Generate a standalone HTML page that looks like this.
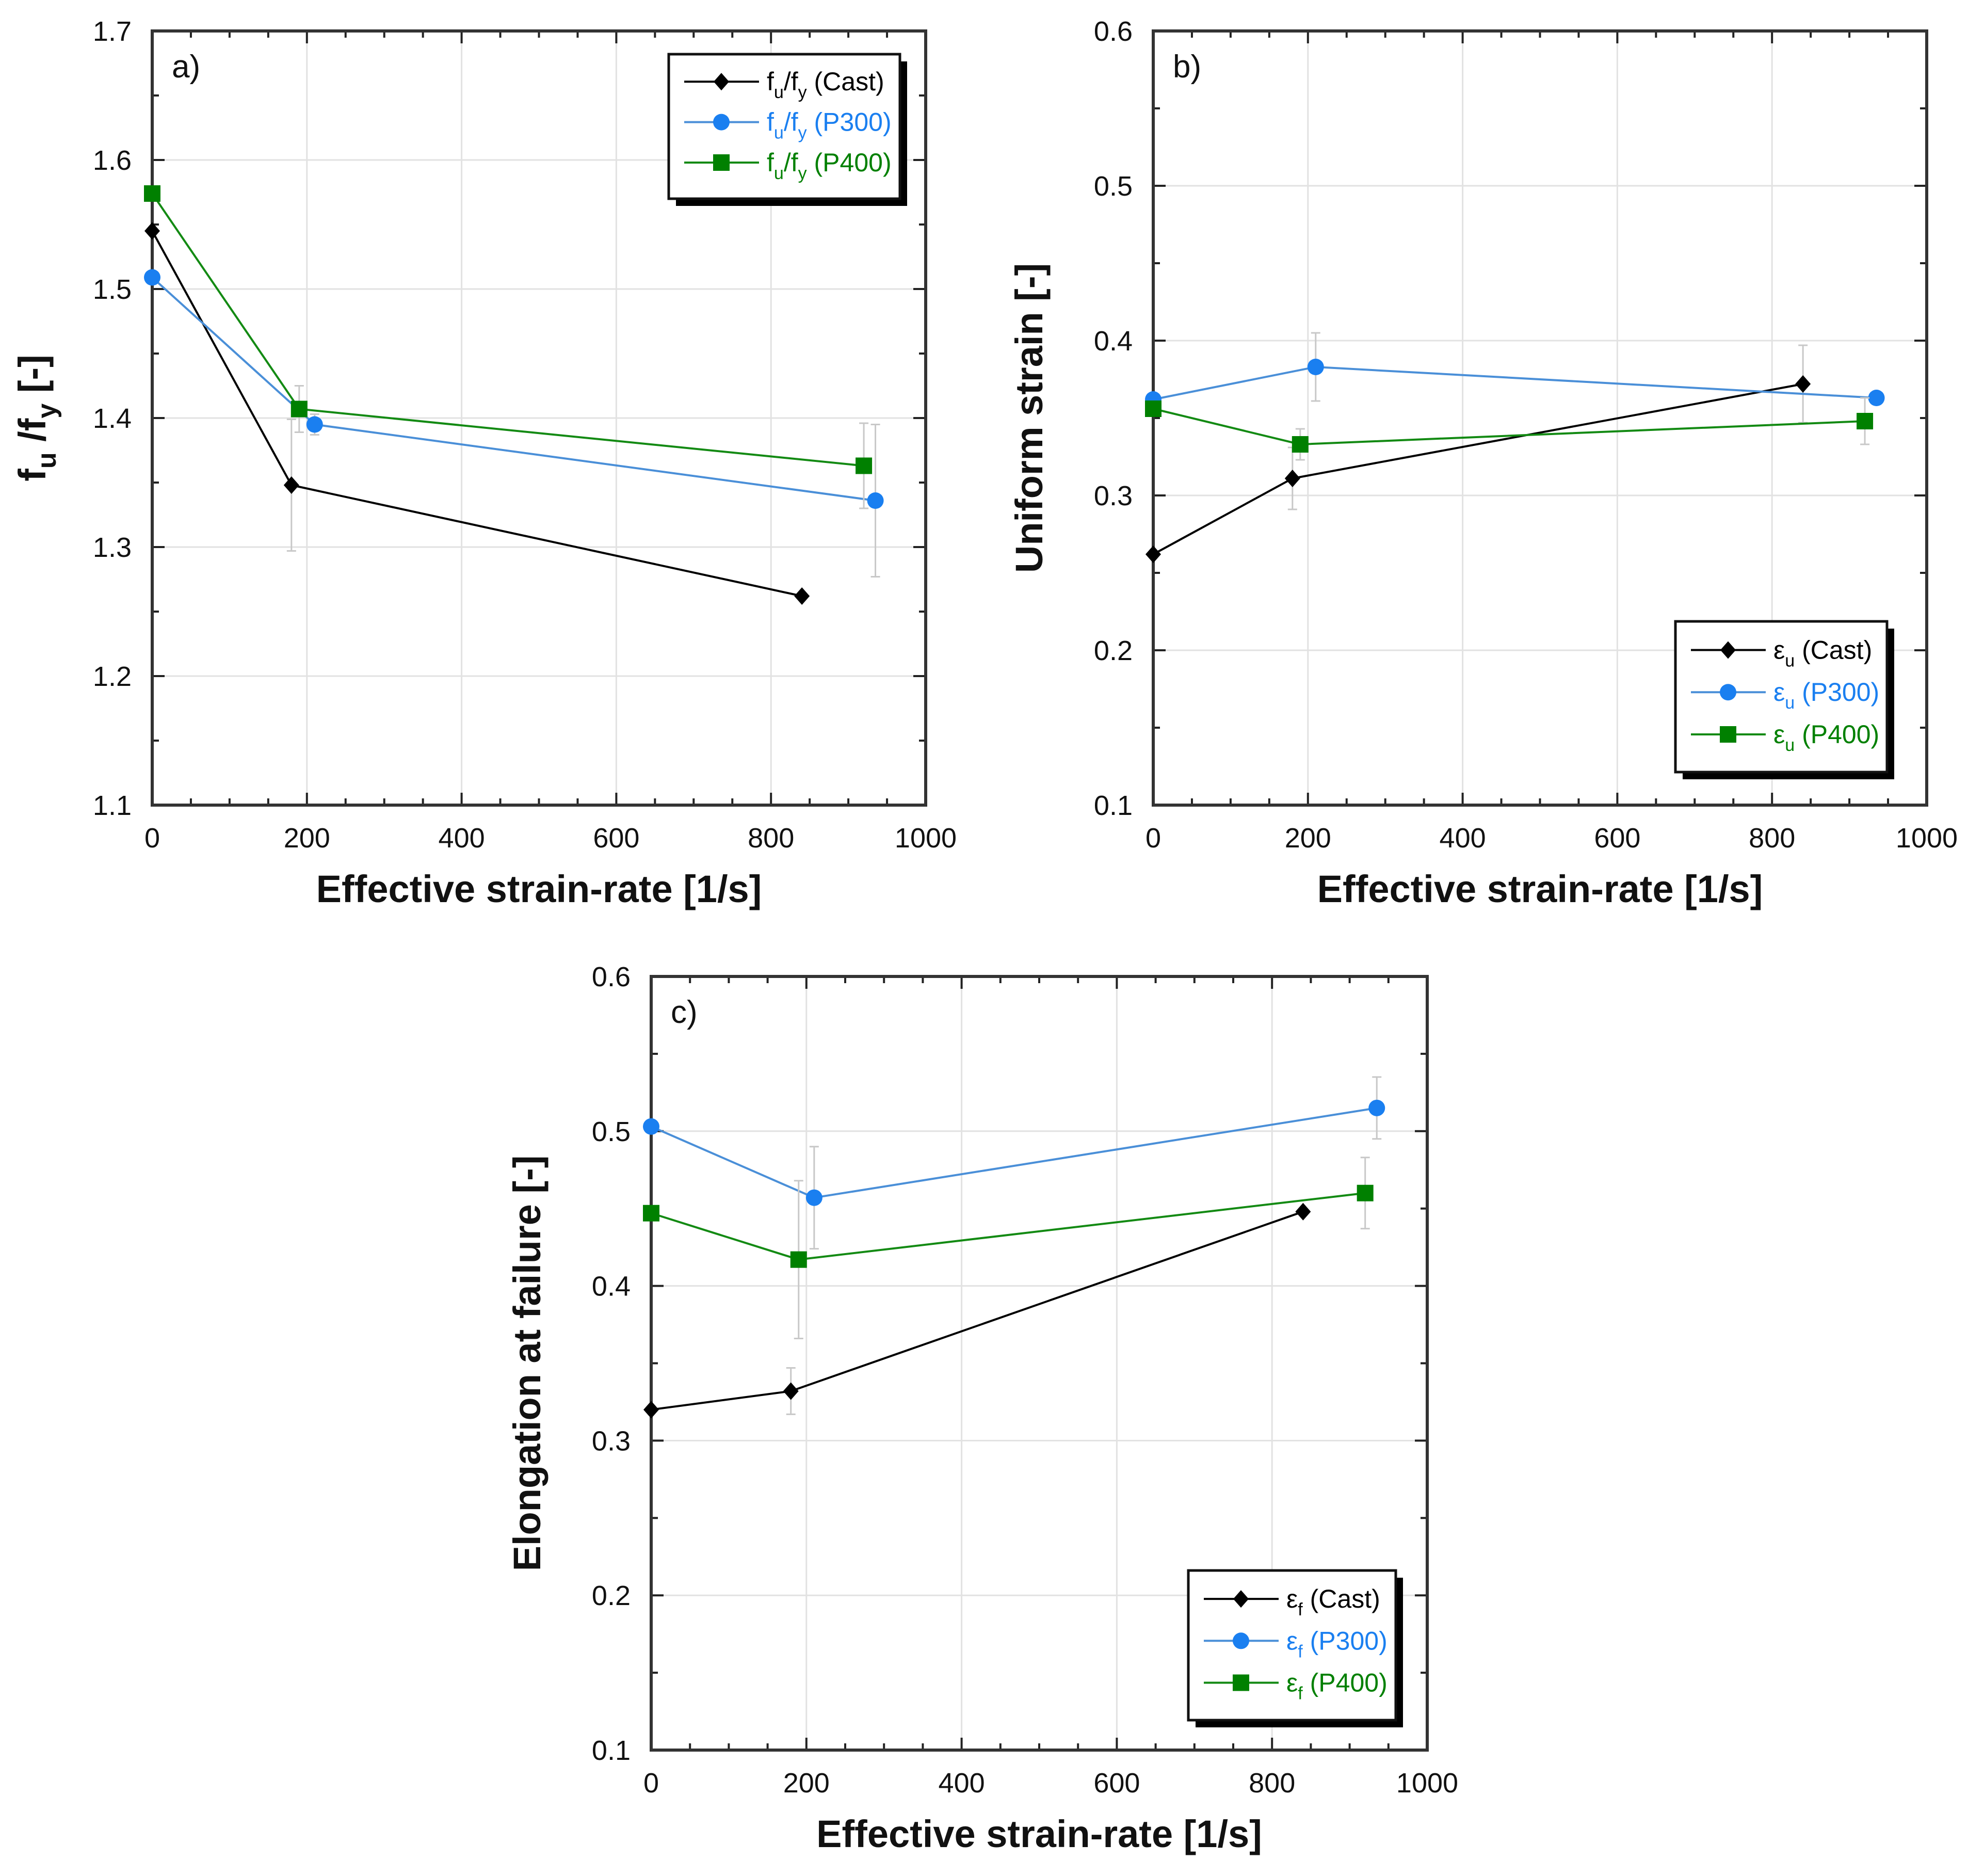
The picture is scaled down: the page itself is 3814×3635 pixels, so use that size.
<!DOCTYPE html>
<html><head><meta charset="utf-8"><style>
body{margin:0;background:#fff}
svg{display:block}
text{font-family:"Liberation Sans",Arial,sans-serif}
</style></head><body>
<svg id="chart" width="3814" height="3635" viewBox="0 0 3814 3635" xmlns="http://www.w3.org/2000/svg"></svg>
<script>
// ---- data ----
const xTicks = [0,200,400,600,800,1000];
const yTicksA = [1.1,1.2,1.3,1.4,1.5,1.6,1.7];
const yTicksB = [0.1,0.2,0.3,0.4,0.5,0.6];
const yTicksC = [0.1,0.2,0.3,0.4,0.5,0.6];
const seriesNames = ["Cast","P300","P400"];
// panel a
const aCastX=[0,180,840], aCastY=[1.545,1.348,1.262], aCastErr=[0,0.051,0];
const aP300X=[0,210,935], aP300Y=[1.509,1.395,1.336], aP300Err=[0,0.008,0.059];
const aP400X=[0,190,920], aP400Y=[1.574,1.407,1.363], aP400Err=[0,0.018,0.033];
// panel b
const bCastX=[0,180,840], bCastY=[0.262,0.311,0.372], bCastErr=[0,0.02,0.025];
const bP300X=[0,210,935], bP300Y=[0.362,0.383,0.363], bP300Err=[0,0.022,0];
const bP400X=[0,190,920], bP400Y=[0.356,0.333,0.348], bP400Err=[0,0.01,0.015];
// panel c
const cCastX=[0,180,840], cCastY=[0.320,0.332,0.448], cCastErr=[0,0.015,0];
const cP300X=[0,210,935], cP300Y=[0.503,0.457,0.515], cP300Err=[0,0.033,0.02];
const cP400X=[0,190,920], cP400Y=[0.447,0.417,0.460], cP400Err=[0,0.051,0.023];

const NS="http://www.w3.org/2000/svg";
const svg=document.getElementById('chart');
function el(tag,attrs,parent,txt){const e=document.createElementNS(NS,tag);for(const k in attrs)e.setAttribute(k,attrs[k]);if(txt!==undefined)e.textContent=txt;(parent||svg).appendChild(e);return e;}
const colors={Cast:["#000","#000"],P300:["#4a8fd8","#1a7ff0"],P400:["#138a13","#008000"]};

function panel(cfg){
  const g=el('g',{});
  
  
  const {L,R,T,B,ymin,ymax,yTicks}=cfg;
  const sx=v=>L+(v-0)/(1000-0)*(R-L);
  const sy=v=>B-(v-ymin)/(ymax-ymin)*(B-T);
  xTicks.forEach(v=>{if(v>0&&v<1000){const l=el('line',{x1:sx(v),x2:sx(v),y1:T,y2:B,stroke:'#e2e2e2','stroke-width':3},g);}});
  yTicks.forEach(v=>{if(v>ymin+1e-9&&v<ymax-1e-9){const l=el('line',{x1:L,x2:R,y1:sy(v),y2:sy(v),stroke:'#e2e2e2','stroke-width':3},g);}});
  for(let v=0;v<=1000;v+=50){const maj=v%200===0;const len=maj?24:13;
    el('line',{x1:sx(v),x2:sx(v),y1:B,y2:B-len,stroke:'#222','stroke-width':4},g);
    el('line',{x1:sx(v),x2:sx(v),y1:T,y2:T+len,stroke:'#222','stroke-width':4},g);}
  const step=(yTicks[1]-yTicks[0])/2;
  for(let i=0;i<=(ymax-ymin)/step+0.01;i++){const v=ymin+i*step;const len=i%2===0?24:13;
    el('line',{x1:L,x2:L+len,y1:sy(v),y2:sy(v),stroke:'#222','stroke-width':4},g);
    el('line',{x1:R,x2:R-len,y1:sy(v),y2:sy(v),stroke:'#222','stroke-width':4},g);}
  const frame=el('rect',{x:L,y:T,width:R-L,height:B-T,fill:'none',stroke:'#333','stroke-width':6},g);
  
  xTicks.forEach(v=>{const t=el('text',{x:sx(v),y:B+82,'font-size':54,'text-anchor':'middle',fill:'#111'},g,String(v));});
  yTicks.forEach(v=>{const t=el('text',{x:L-40,y:sy(v)+19,'font-size':54,'text-anchor':'end',fill:'#111'},g,v.toFixed(1));});
  const xt=el('text',{x:(L+R)/2,y:B+188,'font-size':74,'font-weight':'bold','text-anchor':'middle',fill:'#111'},g,'Effective strain-rate [1/s]');
  
  const yt=el('text',{transform:`translate(${cfg.ytx},${(T+B)/2}) rotate(-90)`,'font-size':74,'font-weight':'bold','text-anchor':'middle',fill:'#111'},g);
  
  cfg.ytitle(yt);
  const pl=el('text',{x:L+38,y:T+90,'font-size':62,fill:'#111'},g,cfg.id+')');
  
  cfg.series.forEach(s=>{
    const [lc,mc]=colors[s.name];
    const sg=el('g',{},g);
    
    
    s.x.forEach((xv,i)=>{if(s.err[i]>0){const e=el('line',{x1:sx(xv),x2:sx(xv),y1:sy(s.y[i]-s.err[i]),y2:sy(s.y[i]+s.err[i]),stroke:'#c8c8c8','stroke-width':3},sg);
      [s.y[i]-s.err[i],s.y[i]+s.err[i]].forEach(yy=>el('line',{x1:sx(xv)-9,x2:sx(xv)+9,y1:sy(yy),y2:sy(yy),stroke:'#c8c8c8','stroke-width':3},sg));}});
    const ln=el('polyline',{points:s.x.map((xv,i)=>sx(xv)+','+sy(s.y[i])).join(' '),fill:'none',stroke:lc,'stroke-width':4},sg);
    
    s.x.forEach((xv,i)=>{const m=marker(s.name,sx(xv),sy(s.y[i]),sg);});
  });
  const lg=el('g',{},g);
  const {lx,ly,lw,lh}=cfg.legend;
  el('rect',{x:lx+14,y:ly+14,width:lw,height:lh,fill:'#000'},lg);
  el('rect',{x:lx,y:ly,width:lw,height:lh,fill:'#fff',stroke:'#111','stroke-width':5},lg);
  seriesNames.forEach((n,i)=>{
    const [lc,mc]=colors[n];const yy=ly+lh*(0.19+0.28*i);
    const e=el('g',{},lg);
    el('line',{x1:lx+30,x2:lx+175,y1:yy,y2:yy,stroke:lc,'stroke-width':4},e);
    marker(n,lx+102,yy,e);
    const t=el('text',{x:lx+190,y:yy+17,'font-size':50,fill:mc},e);
    cfg.legendText(t,n);
  });
  function marker(n,x,y,p){const c=colors[n][1];
    if(n==='Cast')return el('polygon',{points:`${x},${y-17} ${x+15},${y} ${x},${y+17} ${x-15},${y}`,fill:c},p);
    if(n==='P300')return el('circle',{cx:x,cy:y,r:16,fill:c},p);
    return el('rect',{x:x-16,y:y-16,width:32,height:32,fill:c},p);}
}
function tspan(t,txt,attrs){return el('tspan',attrs||{},t,txt);}

panel({id:'a',L:295,R:1794,T:60,B:1560,ymin:1.1,ymax:1.7,yTicks:yTicksA,ytx:88,
  ytitle:t=>{tspan(t,'f');tspan(t,'u',{'font-size':52,dy:20});tspan(t,' /f',{dy:-20});tspan(t,'y',{'font-size':52,dy:20});tspan(t,' [-]',{dy:-20});},
  series:[{name:'Cast',x:aCastX,y:aCastY,err:aCastErr},{name:'P300',x:aP300X,y:aP300Y,err:aP300Err},{name:'P400',x:aP400X,y:aP400Y,err:aP400Err}],
  legend:{lx:1296,ly:105,lw:448,lh:280},
  legendText:(t,n)=>{tspan(t,'f');tspan(t,'u',{'font-size':34,dy:15});tspan(t,'/f',{dy:-15});tspan(t,'y',{'font-size':34,dy:15});tspan(t,' ('+n+')',{dy:-15});}
});
panel({id:'b',L:2235,R:3734,T:60,B:1560,ymin:0.1,ymax:0.6,yTicks:yTicksB,ytx:2020,
  ytitle:t=>{t.textContent='Uniform strain [-]';},
  series:[{name:'Cast',x:bCastX,y:bCastY,err:bCastErr},{name:'P300',x:bP300X,y:bP300Y,err:bP300Err},{name:'P400',x:bP400X,y:bP400Y,err:bP400Err}],
  legend:{lx:3247,ly:1204,lw:410,lh:292},
  legendText:(t,n)=>{tspan(t,'ε');tspan(t,'u',{'font-size':34,dy:15});tspan(t,' ('+n+')',{dy:-15});}
});
panel({id:'c',L:1262,R:2766,T:1892,B:3391,ymin:0.1,ymax:0.6,yTicks:yTicksC,ytx:1047,
  ytitle:t=>{t.textContent='Elongation at failure [-]';},
  series:[{name:'Cast',x:cCastX,y:cCastY,err:cCastErr},{name:'P300',x:cP300X,y:cP300Y,err:cP300Err},{name:'P400',x:cP400X,y:cP400Y,err:cP400Err}],
  legend:{lx:2303,ly:3043,lw:402,lh:290},
  legendText:(t,n)=>{tspan(t,'ε');tspan(t,'f',{'font-size':34,dy:15});tspan(t,' ('+n+')',{dy:-15});}
});
</script>
</body></html>
